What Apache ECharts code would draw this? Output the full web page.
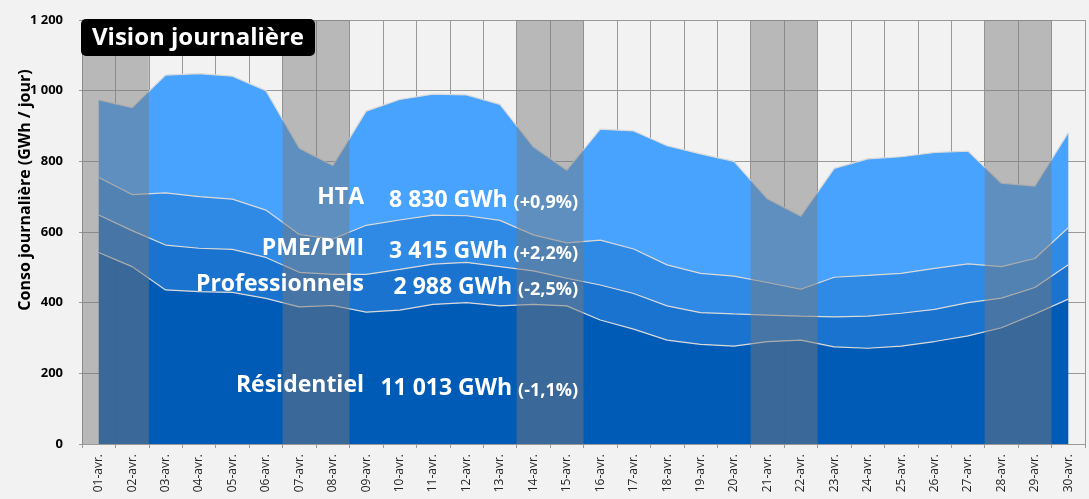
<!DOCTYPE html>
<html>
<head>
<meta charset="utf-8">
<title>Vision journalière</title>
<script src="https://cdn.jsdelivr.net/npm/echarts@6/dist/echarts.min.js"></script>
<style>
    html, body { margin: 0; padding: 0; background: #f2f2f2; }
    #chart { width: 1089px; height: 499px; }
</style>
</head>
<body>
<div id="chart"></div>
<script>
// jours du mois
var jours = ['01-avr.', '02-avr.', '03-avr.', '04-avr.', '05-avr.', '06-avr.', '07-avr.', '08-avr.', '09-avr.', '10-avr.',
    '11-avr.', '12-avr.', '13-avr.', '14-avr.', '15-avr.', '16-avr.', '17-avr.', '18-avr.', '19-avr.', '20-avr.',
    '21-avr.', '22-avr.', '23-avr.', '24-avr.', '25-avr.', '26-avr.', '27-avr.', '28-avr.', '29-avr.', '30-avr.'];

// conso par segment (GWh / jour)
var residentiel = [542, 502, 436, 431, 429, 412, 388, 392, 373, 379,
    395, 400, 391, 395, 391, 351, 325, 294, 282, 277,
    290, 294, 275, 271, 277, 290, 306, 329, 368, 410];
var professionnels = [106, 102, 127, 123, 122, 116, 98, 88, 107, 115,
    114, 114, 111, 95, 78, 99, 101, 97, 90, 91,
    75, 68, 85, 91, 93, 91, 94, 84, 75, 97];
var pmePmi = [106, 102, 148, 146, 142, 134, 107, 100, 139, 140,
    139, 132, 131, 102, 100, 127, 126, 116, 111, 107,
    92, 76, 112, 115, 113, 116, 110, 89, 82, 105];
var hta = [220, 246, 333, 348, 348, 338, 244, 208, 323, 341,
    342, 342, 328, 249, 206, 314, 334, 337, 338, 325,
    237, 207, 308, 330, 330, 328, 319, 236, 205, 269];

// week-ends (bandes grises)
var weekend = ['01-avr.', '02-avr.', '07-avr.', '08-avr.', '14-avr.', '15-avr.',
    '21-avr.', '22-avr.', '28-avr.', '29-avr.'];

// etiquettes
var segments = ['HTA', 'PME/PMI', 'Professionnels', 'Résidentiel'];
var totaux = ['8 830 GWh', '3 415 GWh', '2 988 GWh', '11 013 GWh'];
var evolutions = ['(+0,9%)', '(+2,2%)', '(-2,5%)', '(-1,1%)'];

var yMax = 1200;
var police = '"Open Sans", "DejaVu Sans", sans-serif';

var chart = echarts.init(document.getElementById('chart'), null, { renderer: 'canvas' });

function aire(nom, data, couleur) {
    return {
        name: nom,
        type: 'line',
        stack: 'total',
        data: data,
        showSymbol: false,
        symbol: 'none',
        z: 2,
        lineStyle: { color: '#d9d9d9', width: 1.2 },
        areaStyle: { color: couleur, opacity: 1 }
    };
}

var bandes = jours.map(function (j) {
    return weekend.indexOf(j) >= 0 ? yMax : '-';
});

var labelY = [197, 248, 284, 385];
var textes = [];
segments.forEach(function (s, i) {
    textes.push({
        type: 'text', z: 100, x: 364, y: labelY[i],
        style: { text: s, fill: '#fff', font: 'bold 23px ' + police, align: 'right', verticalAlign: 'middle' }
    });
    textes.push({
        type: 'text', z: 100, x: 578, y: labelY[i],
        style: {
            text: '{v|' + totaux[i] + ' }{p|' + evolutions[i] + '}',
            align: 'right', verticalAlign: 'middle',
            rich: {
                v: { fill: '#fff', font: 'bold 23px ' + police, verticalAlign: 'bottom', lineHeight: 30 },
                p: { fill: '#fff', font: 'bold 18px ' + police, verticalAlign: 'bottom', lineHeight: 28 }
            }
        }
    });
});

var option = {
    animation: false,
    backgroundColor: '#f2f2f2',
    grid: { left: 82, right: 4, top: 20, bottom: 55 },
    xAxis: {
        type: 'category',
        data: jours,
        boundaryGap: true,
        axisLine: { lineStyle: { color: '#999', width: 1 } },
        axisTick: { show: true, length: 4, interval: 0, lineStyle: { color: '#999' } },
        axisLabel: { rotate: 90, interval: 0, margin: 10, color: '#262626', fontSize: 12, fontFamily: police },
        splitLine: { show: true, interval: 0, lineStyle: { color: '#999', width: 1 } }
    },
    yAxis: {
        type: 'value',
        min: 0,
        max: yMax,
        interval: 200,
        axisLine: { show: true, lineStyle: { color: '#999', width: 1 } },
        axisTick: { show: true, length: 3, lineStyle: { color: '#999' } },
        axisLabel: {
            margin: 19, color: '#000', fontSize: 13, fontWeight: 'bold', fontFamily: police,
            formatter: function (v) {
                return v >= 1000 ? Math.floor(v / 1000) + ' ' + String(v % 1000).padStart(3, '0') : String(v);
            }
        },
        splitLine: { show: true, lineStyle: { color: '#999', width: 1 } }
    },
    series: [
        aire('Résidentiel', residentiel, '#005bb7'),
        aire('Professionnels', professionnels, '#1a73cf'),
        aire('PME/PMI', pmePmi, '#2e8ae5'),
        aire('HTA', hta, '#48a3ff'),
        {
            name: 'week-end',
            type: 'bar',
            data: bandes,
            barWidth: '100%',
            barCategoryGap: '0%',
            z: 3,
            itemStyle: { color: 'rgba(122,122,122,0.48)' },
            silent: true
        }
    ],
    graphic: [
        // cartouche titre
        {
            type: 'rect', z: 100,
            shape: { x: 81, y: 19, width: 234, height: 37, r: 5 },
            style: { fill: '#000' }
        },
        {
            type: 'text', z: 101, x: 198, y: 38,
            style: { text: 'Vision journalière', fill: '#fff', font: 'bold 24px ' + police, align: 'center', verticalAlign: 'middle' }
        },
        {
            type: 'text', z: 100, x: 25, y: 190, rotation: Math.PI / 2,
            style: { text: 'Conso journalière (GWh / jour)', fill: '#000', font: 'bold 16px ' + police, align: 'center', verticalAlign: 'middle' }
        }
    ].concat(textes)
};

chart.setOption(option);
</script>
</body>
</html>
